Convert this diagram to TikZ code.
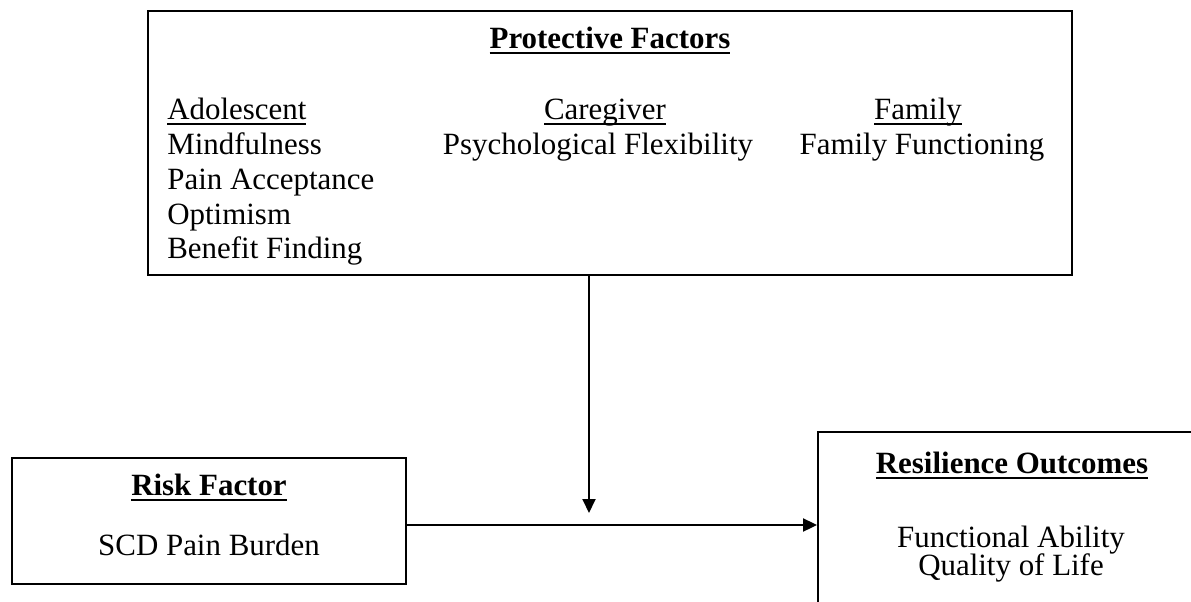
\documentclass[tikz,border=0pt]{standalone}
\usepackage{fontspec}
\setmainfont{Liberation Serif}
\usetikzlibrary{positioning,arrows.meta}

\newcommand{\headline}[1]{{\setbox0\hbox{#1}\rlap{\rule[-3.4pt]{\wd0}{1.2pt}}\box0}}

\begin{document}
\begin{tikzpicture}[>={Triangle[length=0.28cm,width=0.26cm]}, x=0.02cm, y=-0.02cm,
    box/.style={draw, rectangle, line width=1.1pt, inner sep=0pt},
    txt/.style={anchor=base, inner sep=0pt, font=\fontsize{17.6pt}{20pt}\selectfont},
    lefttxt/.style={txt, anchor=base west}]

    \clip (0,0) rectangle (1191,602);

    % Kästen
    \node[box, minimum width=18.48cm, minimum height=5.28cm] (prot) at (610,143) {};
    \node[box, minimum width=7.88cm, minimum height=2.52cm] (risk) at (209,521) {};
    \node[box, minimum width=7.76cm, minimum height=4.16cm] (outc) at (1012,536) {};

    % Schutzfaktoren
    \node[txt] (ptitle) at (610,48) {\headline{\textbf{Protective Factors}}};
    \node[lefttxt] (adol) at (167,119) {\headline{Adolescent}};
    \node[lefttxt] (mind) at (167,154) {Mindfulness};
    \node[lefttxt] (acc) at (167,189) {Pain Acceptance};
    \node[lefttxt] (opt) at (167,224) {Optimism};
    \node[lefttxt] (ben) at (167,258) {Benefit Finding};
    \node[txt] (care) at (605,119) {\headline{Caregiver}};
    \node[txt] (flex) at (598,154) {Psychological Flexibility};
    \node[txt] (fam) at (918,119) {\headline{Family}};
    \node[txt] (func) at (922,154) {Family Functioning};

    % Risiko und Ergebnis
    \node[txt] (rtitle) at (209,495) {\headline{\textbf{Risk Factor}}};
    \node[txt] (burden) at (209,555) {SCD Pain Burden};
    \node[txt] (otitle) at (1012,473) {\headline{\textbf{Resilience Outcomes}}};
    \node[txt] (abil) at (1011,547) {Functional Ability};
    \node[txt] (qol) at (1011,575) {Quality of Life};

    % Pfeile
    \coordinate (tip) at (589,513);
    \coordinate (mid) at (589,525);
    \draw[->, line width=1.1pt] (prot.south -| tip) -- (tip);
    \draw[->, line width=1.1pt] (risk.east |- mid) -- (outc.west |- mid);

\end{tikzpicture}
\end{document}
